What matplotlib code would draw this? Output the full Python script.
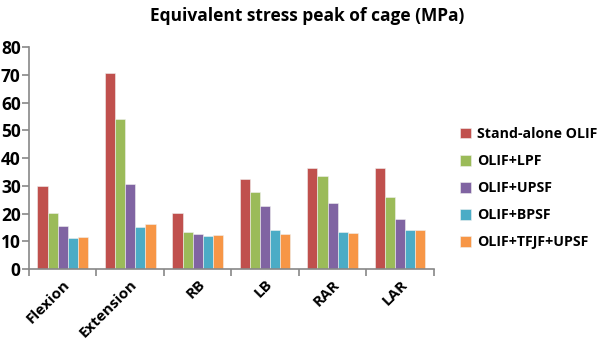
import numpy as np
import matplotlib.pyplot as plt

categories = ['Flexion', 'Extension', 'RB', 'LB', 'RAR', 'LAR']
series_names = ['Stand-alone OLIF', 'OLIF+LPF', 'OLIF+UPSF', 'OLIF+BPSF', 'OLIF+TFJF+UPSF']
standalone = [30.0, 70.6, 20.2, 32.5, 36.3, 36.5]
lpf = [20.2, 54.0, 13.3, 27.7, 33.6, 26.1]
upsf = [15.4, 30.6, 12.5, 22.9, 23.7, 17.9]
bpsf = [11.2, 15.1, 11.8, 14.2, 13.4, 14.1]
tfjf_upsf = [11.5, 16.3, 12.4, 12.5, 12.9, 14.1]
colors = ['#C0504D', '#9BBB59', '#8064A2', '#4BACC6', '#F79646']

plt.rcParams['font.family'] = ['Open Sans', 'DejaVu Sans']

fig = plt.figure(figsize=(5.98, 3.49), dpi=100)
ax = fig.add_axes([0.0485, 0.229, 0.677, 0.636])

x = np.arange(len(categories))
width = 0.15
all_series = [standalone, lpf, upsf, bpsf, tfjf_upsf]
for i, (vals, name, c) in enumerate(zip(all_series, series_names, colors)):
    ax.bar(x + (i - 2) * width, vals, width, color=c, label=name,
           edgecolor='#f0f0f0', linewidth=0.4)

ax.set_xlim(-0.5, len(categories) - 0.5)
ax.set_ylim(0, 80)
ax.set_yticks(range(0, 81, 10))
ax.set_xticks(np.arange(-0.5, len(categories)), minor=False)
ax.set_xticklabels([])
ax.set_xticks(x, minor=True)
ax.set_xticklabels(categories, minor=True, rotation=45, ha='right',
                   rotation_mode='anchor', fontweight='bold', fontsize=11)
ax.tick_params(axis='x', which='minor', length=0, pad=6)
ax.tick_params(axis='x', which='major', length=5, color='#888888', width=1.2)
ax.tick_params(axis='y', length=5, color='#888888', width=1.2, labelsize=12.5, pad=1)
for lbl in ax.get_yticklabels():
    lbl.set_fontweight('bold')

for s in ['top', 'right']:
    ax.spines[s].set_visible(False)
for s in ['left', 'bottom']:
    ax.spines[s].set_color('#888888')
    ax.spines[s].set_linewidth(1.2)

fig.text(0.513, 0.955, 'Equivalent stress peak of cage (MPa)', ha='center', va='center',
         fontsize=12.5, fontweight='bold')

ax.legend(loc='center left', bbox_to_anchor=(1.064, 0.365), frameon=False,
          prop={'weight': 'bold', 'size': 10.2}, handlelength=0.8, handleheight=0.8,
          labelspacing=0.92, handletextpad=0.45, borderaxespad=0, borderpad=0)

fig.savefig('out.png', dpi=100)
